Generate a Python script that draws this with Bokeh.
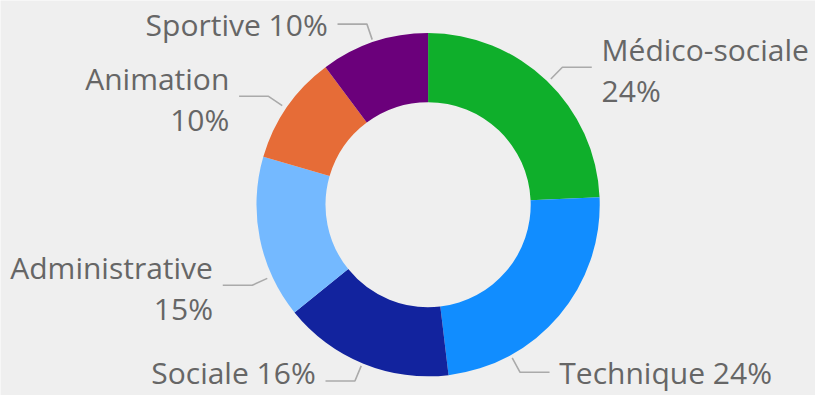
import math
from bokeh.plotting import figure
from bokeh.models import Range1d, ColumnDataSource
from bokeh.embed import file_html
from bokeh.resources import INLINE
from bokeh.core.properties import value

# ---- data ----
categories = ["Médico-sociale", "Technique", "Sociale", "Administrative", "Animation", "Sportive"]
shares = [24.3, 23.8, 16.1, 15.3, 10.3, 10.2]
colors = ["#0FAF2B", "#118DFF", "#12239E", "#74B9FF", "#E66C37", "#6B007B"]

# ---- label layout (style only) ----
label_side = ["right", "right", "left", "left", "left", "left"]
label_two_lines = [True, False, False, True, True, False]
anchor_offset_deg = [0.0, 21.4, 0.0, -13.7, 0.0, 0.0]
label_nudge_y = [0.0, 0.0, -9.0, 0.0, 0.0, 0.0]

W, H = 815, 395          # figure size (fits window with 8px margin)
RW, RH = 831, 411        # layout reference frame
BG = "#EFEFEF"
TXT = "#666666"
LEAD = "#AAAAAA"
FONT = "Open Sans"
FS = "30px"
TEXT_SHIFT = 11.0        # baseline correction for svg text rendering

def dx(xi):
    return xi
def dy(yi):
    return RH - yi

cx_img, cy_img = 436.0, 212.5
r_out, r_in = 175.0, 104.6
r1, r2, hlen, gap = 181.0, 198.0, 30.0, 10.0

p = figure(width=W, height=H, output_backend="svg", toolbar_location=None,
           x_range=Range1d(0, RW), y_range=Range1d(0, RH), min_border=0)
p.axis.visible = False
p.grid.visible = False
p.outline_line_color = None
p.background_fill_color = BG
p.border_fill_color = BG

total = sum(shares)
starts, ends, mids = [], [], []
acc = 0.0
for v in shares:
    t0 = acc / total * 360.0
    acc += v
    t1 = acc / total * 360.0
    starts.append(t0)
    ends.append(t1)
    mids.append((t0 + t1) / 2)

# clockwise-from-top degrees -> bokeh radians
src = ColumnDataSource(dict(
    x=[dx(cx_img)] * len(shares),
    y=[dy(cy_img)] * len(shares),
    start=[math.radians(90 - e) for e in ends],
    end=[math.radians(90 - s) for s in starts],
    color=colors,
))
p.annular_wedge(x="x", y="y", inner_radius=r_in, outer_radius=r_out,
                start_angle="start", end_angle="end", direction="anticlock",
                fill_color="color", line_color=None, source=src)

for i, cat in enumerate(categories):
    pct = round(shares[i] / total * 100)
    th = math.radians(mids[i] + anchor_offset_deg[i])
    ax = cx_img + r1 * math.sin(th)
    ay = cy_img - r1 * math.cos(th)
    ex = cx_img + r2 * math.sin(th)
    ey = cy_img - r2 * math.cos(th)
    sgn = 1 if label_side[i] == "right" else -1
    hx = ex + sgn * hlen
    p.line([dx(ax), dx(ex), dx(hx)], [dy(ay), dy(ey), dy(ey)],
           line_color=LEAD, line_width=1.6)
    tx = hx + sgn * gap
    align = "left" if sgn > 0 else "right"
    if label_two_lines[i]:
        texts = [cat, f"{pct}%"]
        ys = [ey - 7, ey + 35]
    else:
        texts = [f"{cat} {pct}%"]
        ys = [ey + 11.5]
    ys = [v + label_nudge_y[i] - TEXT_SHIFT for v in ys]
    p.text(x=[dx(tx)] * len(texts), y=[dy(v) for v in ys], text=texts,
           text_font=value(FONT), text_font_size=FS, text_color=TXT,
           text_align=align, text_baseline="alphabetic")

open("out.html", "w").write(file_html(p, INLINE))
